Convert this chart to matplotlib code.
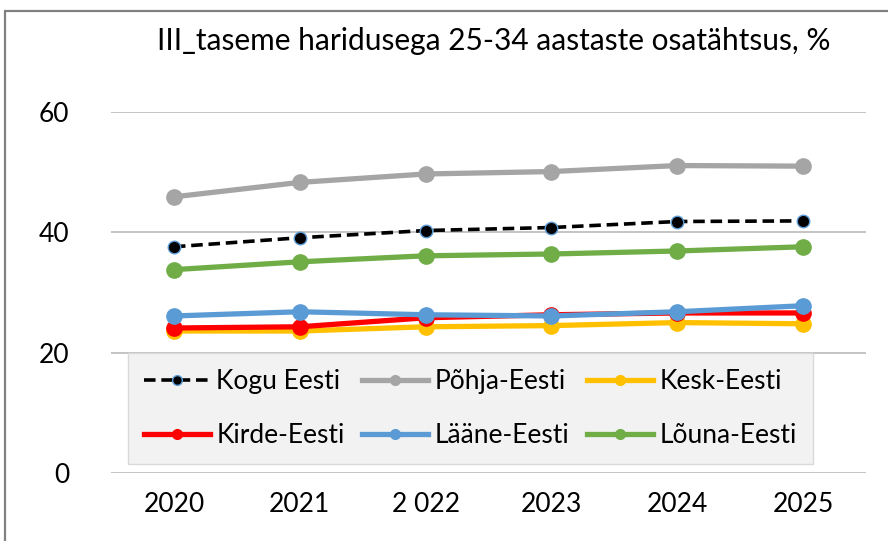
import matplotlib
matplotlib.use("Agg")
import matplotlib.pyplot as plt
from matplotlib.patches import Rectangle

plt.rcParams['font.family'] = ['Lato', 'DejaVu Sans']

years = ["2020", "2021", "2 022", "2023", "2024", "2025"]
kogu = [37.6, 39.1, 40.3, 40.8, 41.8, 41.9]
pohja = [45.9, 48.3, 49.7, 50.1, 51.1, 51.0]
kesk = [23.6, 23.6, 24.3, 24.5, 25.0, 24.8]
kirde = [24.1, 24.3, 25.8, 26.3, 26.6, 26.6]
laane = [26.1, 26.8, 26.3, 26.1, 26.8, 27.8]
louna = [33.8, 35.1, 36.1, 36.4, 36.9, 37.6]

fs = 19
fig = plt.figure(figsize=(8.88, 5.41), dpi=100)
ax = fig.add_axes([111 / 888, 1 - 473 / 541, (866 - 111) / 888, (473 - 112) / 541])

x = range(len(years))
l1, = ax.plot(x, kogu, color="black", lw=2.6, ls=(0, (3.2, 1.6)), marker="o", ms=9,
              mfc="black", mec="#5B9BD5", mew=1, label="Kogu Eesti", zorder=3)
l2, = ax.plot(x, pohja, color="#A5A5A5", lw=3.8, marker="o", ms=11, label="Põhja-Eesti", zorder=3)
l3, = ax.plot(x, kesk, color="#FFC000", lw=3.8, marker="o", ms=11, label="Kesk-Eesti", zorder=3)
l4, = ax.plot(x, kirde, color="#FF0000", lw=3.8, marker="o", ms=11, label="Kirde-Eesti", zorder=3)
l5, = ax.plot(x, laane, color="#5B9BD5", lw=3.8, marker="o", ms=11, label="Lääne-Eesti", zorder=3)
l6, = ax.plot(x, louna, color="#70AD47", lw=3.8, marker="o", ms=11, label="Lõuna-Eesti", zorder=3)

ax.set_xlim(-0.5, 5.5)
ax.set_ylim(0, 60)
ax.set_yticks([0, 20, 40, 60])
ax.set_xticks(list(x))
ax.set_xticklabels(years)
ax.tick_params(length=0, labelsize=fs, pad=14)
ax.tick_params(axis="y", pad=30)
ax.grid(axis="y", color="#BFBFBF", lw=1.3)
ax.set_axisbelow(True)
for s in ax.spines.values():
    s.set_visible(False)

# matplotlib fills legend column-wise; reorder so rows read like the original
order = [l1, l4, l2, l5, l3, l6]
leg = ax.legend(order, [h.get_label() for h in order], ncol=3, loc="upper left",
                bbox_to_anchor=(17 / 755, (473 - 357) / 361, 685 / 755, 0.01),
                mode="expand", fontsize=fs, frameon=True, fancybox=False,
                handlelength=2.5, handletextpad=0.25, columnspacing=0.8, labelspacing=1.1,
                borderaxespad=0, borderpad=0.6)
leg.get_frame().set_facecolor("#F2F2F2")
leg.get_frame().set_edgecolor("#D9D9D9")
leg.get_frame().set_alpha(1)
leg.set_zorder(2)
for h in leg.legend_handles:
    h.set_markersize(7)

fig.text(494 / 888, 1 - 41 / 541, "III_taseme haridusega 25-34 aastaste osatähtsus, %",
         ha="center", va="center", fontsize=21.5)

fig.patches.append(Rectangle((5 / 888, -0.1), 1.1, 1 - 11 / 541 + 0.1, transform=fig.transFigure,
                             fill=False, edgecolor="#808080", lw=1.6))

fig.savefig("out.png", dpi=100)
